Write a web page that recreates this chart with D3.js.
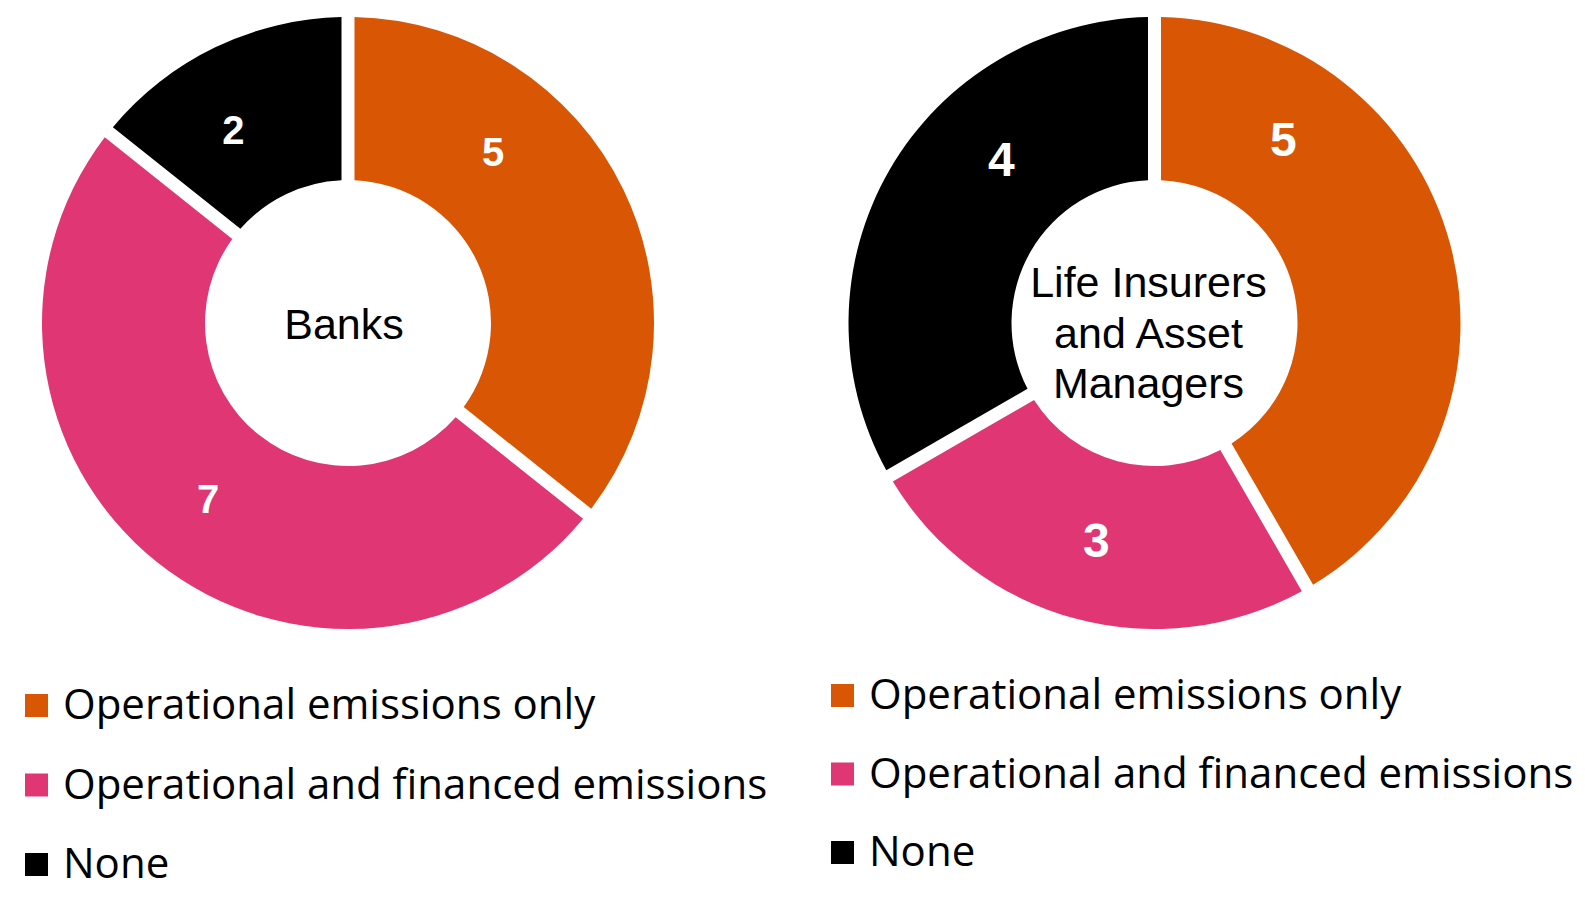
<!DOCTYPE html>
<html>
<head>
<meta charset="utf-8">
<script src="https://cdn.jsdelivr.net/npm/d3@7"></script>
<style>
  body { margin: 0; background: #fff; }
  svg { display: block; }
</style>
</head>
<body>
<div id="chart"></div>
<script>
// data
var categories = ["Operational emissions only", "Operational and financed emissions", "None"];
var banksValues = [5, 7, 2];
var insurersValues = [5, 3, 4];
var banksTitle = ["Banks"];
var insurersTitle = ["Life Insurers", "and Asset", "Managers"];

var colors = ["#D95604", "#E03673", "#000000"];
var width = 1585, height = 900;

var svg = d3.select("#chart").append("svg")
    .attr("width", width)
    .attr("height", height);

// one donut + its legend
var charts = [
  { values: banksValues, title: banksTitle, cx: 348, cy: 323, titleDx: -4, titleBase: 339,
    labelSize: 40, labelShift: [-24, 0, -5],
    legendX: 25, legendY: 719, legendStep: 79.5 },
  { values: insurersValues, title: insurersTitle, cx: 1154.5, cy: 323, titleDx: -6, titleBase: 297,
    labelSize: 48, labelShift: [-40, 0, 17],
    legendX: 831, legendY: 709, legendStep: 78.5 }
];

var outerR = 306, innerR = 143;

var pie = d3.pie().sort(null).value(function(d) { return d; });
var arc = d3.arc()
    .innerRadius(innerR)
    .outerRadius(outerR)
    .padRadius(100)
    .padAngle(0.13);

charts.forEach(function(c) {
  var g = svg.append("g").attr("transform", "translate(" + c.cx + "," + c.cy + ")");
  var arcs = pie(c.values);

  g.selectAll("path.slice")
    .data(arcs)
    .enter().append("path")
    .attr("class", "slice")
    .attr("d", arc)
    .attr("fill", function(d, i) { return colors[i]; });

  // value labels, at mid ring radius (nudged round like in the original)
  var labelR = (innerR + outerR) / 2;
  g.selectAll("text.val")
    .data(arcs)
    .enter().append("text")
    .attr("class", "val")
    .attr("x", function(d, i) {
      var a = (d.startAngle + d.endAngle) / 2 + c.labelShift[i] * Math.PI / 180;
      return labelR * Math.sin(a);
    })
    .attr("y", function(d, i) {
      var a = (d.startAngle + d.endAngle) / 2 + c.labelShift[i] * Math.PI / 180;
      return -labelR * Math.cos(a);
    })
    .attr("dy", "0.36em")
    .attr("text-anchor", "middle")
    .style("font-family", "'Liberation Sans', Arial, sans-serif")
    .style("font-weight", "bold")
    .style("font-size", c.labelSize + "px")
    .style("fill", "#fff")
    .text(function(d) { return d.data; });

  // centre title
  g.selectAll("text.title")
    .data(c.title)
    .enter().append("text")
    .attr("class", "title")
    .attr("x", c.titleDx)
    .attr("y", function(d, i) { return c.titleBase - c.cy + i * 50.5; })
    .attr("text-anchor", "middle")
    .style("font-family", "'Liberation Sans', Arial, sans-serif")
    .style("font-size", "43px")
    .style("fill", "#000")
    .text(function(d) { return d; });

  // legend
  var lg = svg.append("g").attr("transform", "translate(" + c.legendX + "," + c.legendY + ")");
  var rows = lg.selectAll("g.row")
    .data(categories)
    .enter().append("g")
    .attr("class", "row")
    .attr("transform", function(d, i) { return "translate(0," + i * c.legendStep + ")"; });
  rows.append("rect")
    .attr("x", 0).attr("y", -25)
    .attr("width", 23).attr("height", 23)
    .attr("fill", function(d, i) { return colors[i]; });
  rows.append("text")
    .attr("x", 38)
    .attr("y", 0)
    .style("font-family", "'Open Sans', sans-serif")
    .style("font-size", "42px")
    .style("fill", "#000")
    .text(function(d) { return d; });
});
</script>
</body>
</html>
